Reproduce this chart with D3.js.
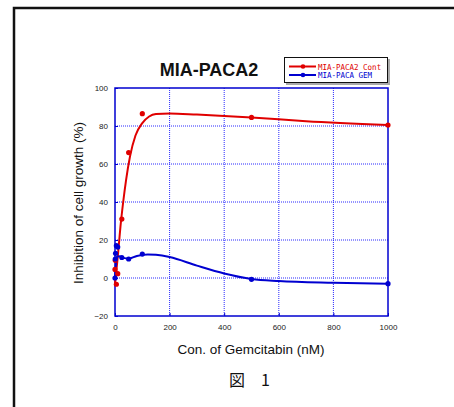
<!DOCTYPE html>
<html>
<head>
<meta charset="utf-8">
<script src="https://cdnjs.cloudflare.com/ajax/libs/d3/7.8.5/d3.min.js"></script>
<style>
  body { margin: 0; background: #fff; }
  svg { display: block; }
</style>
</head>
<body>
<svg id="chart"></svg>
<script>
// данные
var contX = [0, 1, 5, 10, 25, 50, 100, 500, 1000];
var contY = [4.5, 9.3, -3.3, 2.3, 31, 66, 86.5, 84.5, 80.5];
var gemX = [0, 1, 2, 5, 10, 25, 50, 100, 500, 1000];
var gemY = [0, 10, 13, 17, 16.3, 10.8, 10, 12.6, -0.7, -3];

// подогнанные кривые
var contFitX = [0, 5, 10, 15, 20, 30, 40, 55, 75, 100, 125, 150, 200, 300, 500, 700, 1000];
var contFitY = [-3, 4, 11, 19, 27, 40, 51, 64, 75, 81.5, 85, 86.3, 86.6, 86, 84.5, 82.5, 80.5];
var gemFitX = [0, 3, 6, 15, 30, 50, 80, 120, 150, 200, 300, 400, 500, 600, 800, 1000];
var gemFitY = [0, 7, 11, 11.5, 10.6, 10.2, 11.6, 12.4, 12.2, 11, 6.5, 2.4, -0.5, -1.6, -2.5, -3];

var xTicks = [0, 200, 400, 600, 800, 1000];
var yTicks = [-20, 0, 20, 40, 60, 80, 100];
var seriesNames = ["MIA-PACA2 Cont", "MIA-PACA GEM"];
var seriesColors = ["#e00000", "#0000d0"];

(function() {
    var W = 454, H = 407;
    var pLeft = 115, pRight = 388, pTop = 88, pBottom = 316;

    var svg = d3.select("#chart").attr("width", W).attr("height", H);

    // рамка
    svg.append("path")
        .attr("d", "M14,420 L14,8 L460,8")
        .attr("fill", "none")
        .attr("stroke", "#111")
        .attr("stroke-width", 2.5);

    var x = d3.scaleLinear().domain([0, 1000]).range([pLeft, pRight]);
    var y = d3.scaleLinear().domain([-20, 100]).range([pBottom, pTop]);

    // сетка
    var grid = svg.append("g");
    grid.selectAll(".gx")
        .data(xTicks.slice(1, -1))
        .enter().append("line")
        .attr("x1", d => x(d)).attr("x2", d => x(d))
        .attr("y1", pTop).attr("y2", pBottom)
        .attr("stroke", "#2a2aff").attr("stroke-width", 1)
        .attr("stroke-dasharray", "1,1");
    grid.selectAll(".gy")
        .data(yTicks.slice(1, -1))
        .enter().append("line")
        .attr("x1", pLeft).attr("x2", pRight)
        .attr("y1", d => y(d)).attr("y2", d => y(d))
        .attr("stroke", "#2a2aff").attr("stroke-width", 1)
        .attr("stroke-dasharray", "1,1");

    // оси
    var axisX = svg.append("g")
        .attr("transform", `translate(0, ${pBottom})`)
        .call(d3.axisBottom(x).tickValues(xTicks).tickFormat(d3.format("d"))
            .tickSizeInner(-3).tickSizeOuter(0).tickPadding(8));
    var axisY = svg.append("g")
        .attr("transform", `translate(${pLeft}, 0)`)
        .call(d3.axisLeft(y).tickValues(yTicks).tickFormat(d3.format("d"))
            .tickSizeInner(-3).tickSizeOuter(0).tickPadding(7));
    [axisX, axisY].forEach(function(a) {
        a.select(".domain").remove();
        a.selectAll("line").attr("stroke", "#0000d0");
        a.selectAll("text")
            .attr("fill", "#222")
            .style("font-family", "Liberation Sans, Arial, sans-serif")
            .style("font-size", "8px");
    });

    svg.append("rect")
        .attr("x", pLeft).attr("y", pTop)
        .attr("width", pRight - pLeft).attr("height", pBottom - pTop)
        .attr("fill", "none")
        .attr("stroke", "#0000d0").attr("stroke-width", 1.5);

    // кривые
    var line = d3.line()
        .x(d => x(d[0]))
        .y(d => y(d[1]))
        .curve(d3.curveMonotoneX);

    var fits = [d3.zip(contFitX, contFitY), d3.zip(gemFitX, gemFitY)];
    var points = [d3.zip(contX, contY), d3.zip(gemX, gemY)];

    fits.forEach(function(f, i) {
        svg.append("path")
            .datum(f)
            .attr("d", line)
            .attr("fill", "none")
            .attr("stroke", seriesColors[i])
            .attr("stroke-width", 2);
    });
    points.forEach(function(p, i) {
        svg.append("g").selectAll("circle")
            .data(p)
            .enter().append("circle")
            .attr("cx", d => x(d[0]))
            .attr("cy", d => y(d[1]))
            .attr("r", 2.6)
            .attr("fill", seriesColors[i]);
    });

    // заголовки
    svg.append("text")
        .attr("x", 209).attr("y", 76)
        .attr("text-anchor", "middle")
        .style("font-family", "Liberation Sans, Arial, sans-serif")
        .style("font-size", "18px").style("font-weight", "bold")
        .attr("fill", "#111")
        .text("MIA-PACA2");

    svg.append("text")
        .attr("x", 251).attr("y", 354)
        .attr("text-anchor", "middle")
        .style("font-family", "Liberation Sans, Arial, sans-serif")
        .style("font-size", "13.5px")
        .attr("fill", "#111")
        .text("Con. of Gemcitabin (nM)");

    svg.append("text")
        .attr("transform", "translate(83, 203) rotate(-90)")
        .attr("text-anchor", "middle")
        .style("font-family", "Liberation Sans, Arial, sans-serif")
        .style("font-size", "13.5px")
        .attr("fill", "#111")
        .text("Inhibition of cell growth (%)");

    svg.append("text")
        .attr("x", 229).attr("y", 386)
        .style("font-family", "Noto Sans CJK JP, sans-serif")
        .style("font-size", "16px")
        .attr("fill", "#111")
        .text("図\u30001");

    // легенда
    var lg = svg.append("g");
    lg.append("rect")
        .attr("x", 286).attr("y", 59).attr("width", 104).attr("height", 26)
        .attr("fill", "#aaa");
    lg.append("rect")
        .attr("x", 284.5).attr("y", 57.5).attr("width", 103).attr("height", 25)
        .attr("fill", "#fff").attr("stroke", "#111").attr("stroke-width", 1);
    seriesNames.forEach(function(name, i) {
        var ly = 66.5 + i * 8.5;
        lg.append("line")
            .attr("x1", 289).attr("x2", 316)
            .attr("y1", ly).attr("y2", ly)
            .attr("stroke", seriesColors[i]).attr("stroke-width", 2);
        lg.append("circle")
            .attr("cx", 303).attr("cy", ly).attr("r", 2.3)
            .attr("fill", seriesColors[i]);
        lg.append("text")
            .attr("transform", `translate(318, ${ly + 3}) scale(1, 1.1)`)
            .style("font-family", "DejaVu Sans Mono, monospace")
            .style("font-size", "7.5px")
            .attr("fill", seriesColors[i])
            .text(name);
    });
})();
</script>
</body>
</html>
